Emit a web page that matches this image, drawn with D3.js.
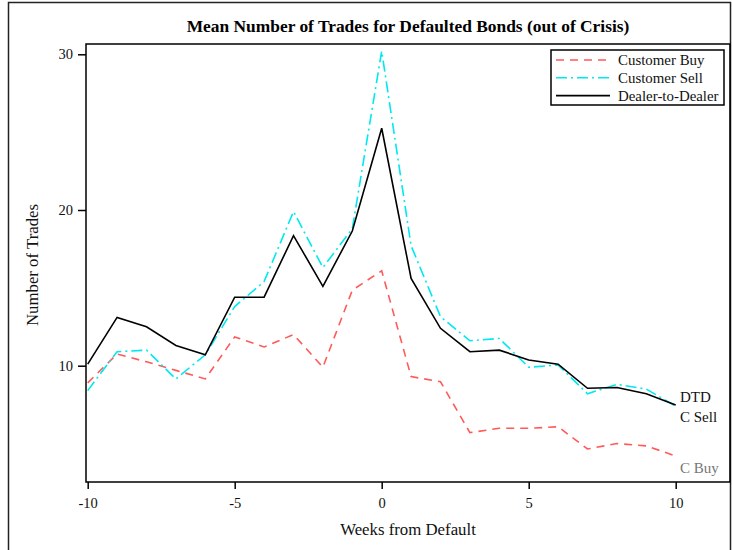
<!DOCTYPE html>
<html>
<head>
<meta charset="utf-8">
<script src="https://cdn.jsdelivr.net/npm/d3@7"></script>
<style>
  html, body { margin: 0; padding: 0; background: #fff; }
  svg { display: block; font-family: "Liberation Serif", "Times New Roman", serif; }
</style>
</head>
<body>
<svg id="chart" width="732" height="550"></svg>
<script>
// Weeks relative to the default date
const weeks = d3.range(-10, 11);

// Mean number of trades per week
const customerBuy = [8.9, 10.75, 10.25, 9.7, 9.15, 11.85, 11.2, 12.0, 9.9, 14.85, 16.1,
                     9.3, 8.97, 5.7, 5.98, 5.98, 6.08, 4.65, 5.0, 4.85, 4.2];
const customerSell = [8.4, 10.9, 11.0, 9.15, 10.7, 13.8, 15.4, 19.9, 16.3, 18.8, 30.2,
                      17.7, 13.15, 11.6, 11.75, 9.9, 10.05, 8.2, 8.8, 8.5, 7.4];
const dealerToDealer = [10.1, 13.1, 12.5, 11.3, 10.7, 14.4, 14.4, 18.35, 15.1, 18.65, 25.25,
                        15.6, 12.4, 10.9, 11.0, 10.37, 10.1, 8.55, 8.6, 8.2, 7.48];

const xTicks = [-10, -5, 0, 5, 10];
const yTicks = [10, 20, 30];

const seriesNames = ["Customer Buy", "Customer Sell", "Dealer-to-Dealer"];
const endLabels = ["C Buy", "C Sell", "DTD"];

const series = [
  { name: seriesNames[0], values: customerBuy,    color: "#ff5a5a", dash: "8,6",      label: endLabels[0], labelColor: "#777", labelY: 468 },
  { name: seriesNames[1], values: customerSell,   color: "#00e8f0", dash: "11,4,2,4", label: endLabels[1], labelColor: "#111", labelY: 417 },
  { name: seriesNames[2], values: dealerToDealer, color: "#000000", dash: null,       label: endLabels[2], labelColor: "#111", labelY: 397 }
];

const svg = d3.select("#chart");

const frame = { left: 86, right: 730, top: 44, bottom: 482 };

const x = d3.scaleLinear().domain([-10, 10]).range([87.7, 675.7]);
const y = d3.scaleLinear().domain([10, 30]).range([365.7, 54.3]);

// Plain hyphen for negative tick values
const intFmt = d => String(d);

// Outer border
svg.append("path")
  .attr("d", `M8.5,550 V2.5 H730.5 V550`)
  .attr("fill", "none").attr("stroke", "#222").attr("stroke-width", 1.5);

// Title
svg.append("text")
  .attr("x", 408).attr("y", 32)
  .attr("text-anchor", "middle")
  .attr("font-size", 17.4).attr("font-weight", "bold")
  .text("Mean Number of Trades for Defaulted Bonds (out of Crisis)");

// Plot frame
svg.append("rect")
  .attr("x", frame.left).attr("y", frame.top)
  .attr("width", frame.right - frame.left).attr("height", frame.bottom - frame.top)
  .attr("fill", "none").attr("stroke", "#000").attr("stroke-width", 1.5);

// Axes
const xAxis = svg.append("g")
  .attr("transform", `translate(0,${frame.bottom})`)
  .call(d3.axisBottom(x).tickValues(xTicks).tickSize(7).tickPadding(9).tickFormat(intFmt));
xAxis.select(".domain").remove();
xAxis.selectAll("line").attr("stroke", "#000").attr("stroke-width", 1.5);
xAxis.selectAll("text").attr("font-size", 14.5).attr("fill", "#111")
  .attr("font-family", "Liberation Serif, serif");

const yAxis = svg.append("g")
  .attr("transform", `translate(${frame.left},0)`)
  .call(d3.axisLeft(y).tickValues(yTicks).tickSize(8).tickPadding(5).tickFormat(intFmt));
yAxis.select(".domain").remove();
yAxis.selectAll("line").attr("stroke", "#000").attr("stroke-width", 1.5);
yAxis.selectAll("text").attr("font-size", 14.5).attr("fill", "#111")
  .attr("font-family", "Liberation Serif, serif");

// Axis titles
svg.append("text")
  .attr("x", 408).attr("y", 535)
  .attr("text-anchor", "middle").attr("font-size", 16.8).attr("fill", "#111")
  .text("Weeks from Default");

svg.append("text")
  .attr("transform", "translate(38,265) rotate(-90)")
  .attr("text-anchor", "middle").attr("font-size", 16.8).attr("fill", "#111")
  .text("Number of Trades");

// Series lines
const line = d3.line().x((d, i) => x(weeks[i])).y(d => y(d));

svg.append("g").selectAll("path")
  .data(series)
  .join("path")
  .attr("d", d => line(d.values))
  .attr("fill", "none")
  .attr("stroke", d => d.color)
  .attr("stroke-width", 1.6)
  .attr("stroke-dasharray", d => d.dash);

// End-of-line labels
svg.append("g").selectAll("text")
  .data(series)
  .join("text")
  .attr("x", 680)
  .attr("y", d => d.labelY)
  .attr("dy", "0.35em")
  .attr("font-size", 15)
  .attr("fill", d => d.labelColor)
  .text(d => d.label);

// Legend
const legend = svg.append("g");
legend.append("rect")
  .attr("x", 551).attr("y", 50).attr("width", 173).attr("height", 55)
  .attr("fill", "#fff").attr("stroke", "#000").attr("stroke-width", 1.5);

const items = legend.selectAll("g")
  .data(series)
  .join("g")
  .attr("transform", (d, i) => `translate(0,${60 + i * 17.8})`);

items.append("line")
  .attr("x1", 556).attr("x2", 610)
  .attr("stroke", d => d.color)
  .attr("stroke-width", 1.6)
  .attr("stroke-dasharray", d => d.dash);

items.append("text")
  .attr("x", 618).attr("dy", "0.35em")
  .attr("font-size", 14.9).attr("fill", "#111")
  .text(d => d.name);
</script>
</body>
</html>
